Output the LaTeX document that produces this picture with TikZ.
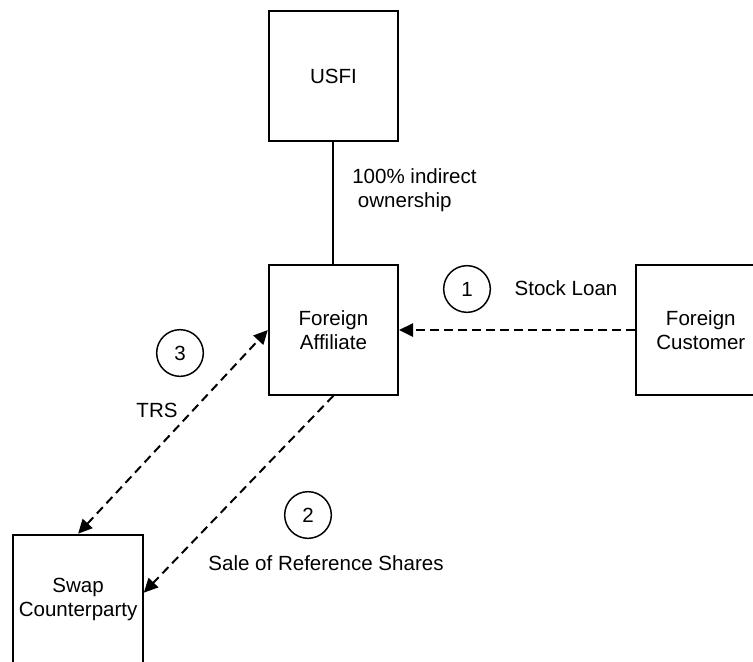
\documentclass[tikz,border=0pt]{standalone}
\usepackage{fontspec}
\setmainfont{Liberation Sans}
\usetikzlibrary{positioning,arrows.meta}
\tikzset{
  ent/.style={draw, line width=1.5pt, minimum width=97pt, minimum height=97pt, align=center, inner sep=0pt},
  flow/.style={-{Triangle[length=10.5pt, width=10pt]}, line width=1.5pt, dash pattern=on 6.5pt off 4pt},
  num/.style={draw, circle, line width=1.1pt, minimum size=35pt, inner sep=0pt},
}

\begin{document}
\begin{tikzpicture}[font=\fontsize{15.4}{18}\selectfont, node distance=92pt and 177pt]
    \useasboundingbox (0,0) rectangle (564.75pt,-495.75pt);
    \node[ent] (usfi) at (250.1pt,-57pt) {USFI};
    \node[ent, below=of usfi] (fa) {Foreign\\Affiliate};
    \node[ent, right=of fa] (fc) {Foreign\\Customer};
    \node[ent, below left=103.5pt and 93pt of fa] (swap) {Swap\\Counterparty};
    \draw[line width=1.5pt] (usfi) -- (fa);
    \node[anchor=west, align=left, inner sep=0pt] (own) at (264pt,-142.5pt) {100\% indirect\\\ ownership};
    \draw[flow] (fc) -- (fa);
    \draw[flow, {Triangle[length=10.5pt, width=10pt]}-{Triangle[length=10.5pt, width=10pt]}] (swap.north) -- (fa.west);
    \draw[flow] (fa.south) -- ([yshift=5pt]swap.east);
    \node[num] (n1) at (350.25pt,-216.75pt) {1};
    \node (loan) at (424.5pt,-216pt) {Stock Loan};
    \node[num] (n3) at (135pt,-264.75pt) {3};
    \node (trs) at (117.75pt,-307.5pt) {TRS};
    \node[num] (n2) at (231pt,-386.25pt) {2};
    \node (sale) at (244.5pt,-422.25pt) {Sale of Reference Shares};
  \end{tikzpicture}
\end{document}
